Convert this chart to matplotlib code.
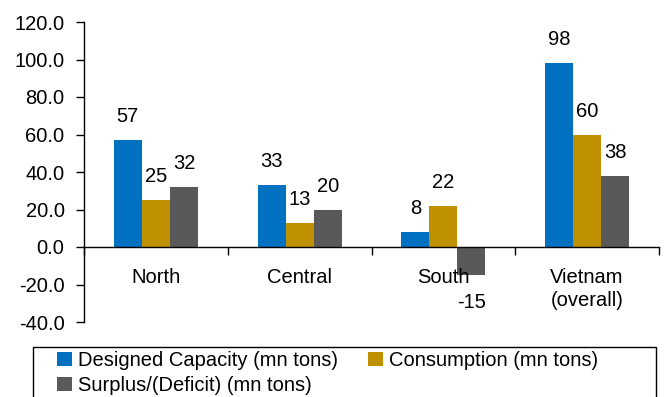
import matplotlib
matplotlib.use("Agg")
import matplotlib.pyplot as plt
from matplotlib.patches import Rectangle
import numpy as np

categories = ["North", "Central", "South", "Vietnam\n(overall)"]
capacity = [57, 33, 8, 98]
consumption = [25, 13, 22, 60]
surplus = [32, 20, -15, 38]
series_names = ["Designed Capacity (mn tons)", "Consumption (mn tons)", "Surplus/(Deficit) (mn tons)"]
colors = ["#0070C0", "#BF9000", "#595959"]
yticks = [-40, -20, 0, 20, 40, 60, 80, 100, 120]

plt.rcParams['font.family'] = ['Liberation Sans', 'DejaVu Sans']
FS = 14.5

fig = plt.figure(figsize=(6.68, 3.97), dpi=100)
ax = fig.add_axes([84/668, 1-322/397, (659-84)/668, (322-22)/397])

x = np.arange(len(categories))
w = 0.195
handles = []
for i, (vals, c, name) in enumerate(zip([capacity, consumption, surplus], colors, series_names)):
    pos = x + (i - 1) * w
    b = ax.bar(pos, vals, width=w, color=c, label=name, edgecolor='none')
    handles.append(b)
    for p, v in zip(pos, vals):
        if v >= 0:
            ax.annotate(f"{v:.0f}", (p, v), xytext=(0, 10), textcoords='offset points',
                        ha='center', va='bottom', fontsize=FS)
        else:
            ax.annotate(f"{v:.0f}", (p, v), xytext=(0, -13), textcoords='offset points',
                        ha='center', va='top', fontsize=FS)

ax.set_xlim(-0.5, len(categories) - 0.5)
ax.set_ylim(-40, 120)
ax.set_yticks(yticks)
ax.set_yticklabels([f"{t:.1f}" for t in yticks], fontsize=FS)
ax.spines['top'].set_visible(False)
ax.spines['right'].set_visible(False)
ax.spines['bottom'].set_position(('data', 0))
ax.spines['left'].set_linewidth(1.0)
ax.spines['bottom'].set_linewidth(1.0)
ax.tick_params(axis='y', direction='out', length=6, width=1, pad=8)

ax.set_xticks(np.arange(len(categories) + 1) - 0.5)
ax.set_xticklabels([])
ax.tick_params(axis='x', which='major', direction='out', length=6, width=1)
ax.set_xticks(x, minor=True)
ax.set_xticklabels(categories, minor=True, fontsize=FS, va='top', linespacing=1.25)
ax.tick_params(axis='x', which='minor', length=0, pad=15)

leg = fig.legend([handles[0], handles[2], handles[1]],
                 [series_names[0], series_names[2], series_names[1]],
                 loc='upper left', bbox_to_anchor=(57/668, 1-351/397),
                 ncol=2, fontsize=FS, frameon=False,
                 handlelength=0.75, handleheight=0.75, columnspacing=1.5,
                 handletextpad=0.3, borderpad=0.0, labelspacing=0.3, borderaxespad=0)

fig.patches.append(Rectangle((33/668, -0.05), (656-33)/668, 1-347/397 + 0.05,
                             transform=fig.transFigure, fill=False, edgecolor='black',
                             linewidth=1.0, figure=fig))

fig.savefig("out.png", dpi=100)
